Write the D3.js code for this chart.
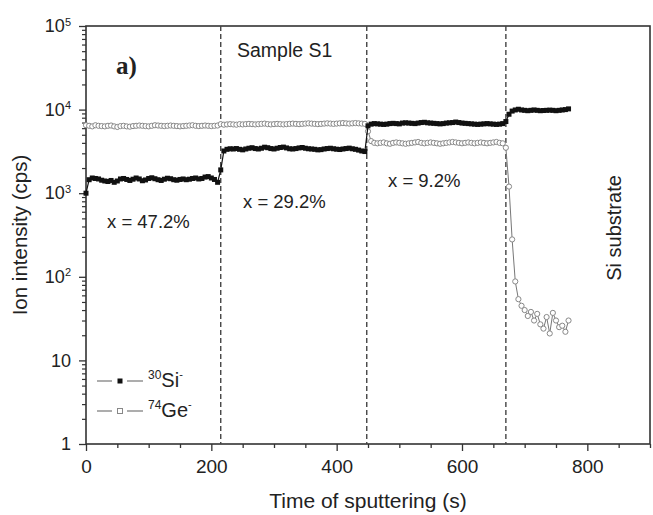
<!DOCTYPE html>
<html>
<head>
<meta charset="utf-8">
<script src="https://cdn.jsdelivr.net/npm/d3@7"></script>
<style>
  body { margin: 0; background: #fff; }
  svg { font-family: "Liberation Sans", Arial, sans-serif; }
</style>
</head>
<body>
<div id="container"></div>
<script>
// sputtering time step (s) between consecutive points
const timeStep = 5;

// 30Si- intensity (cps), one value per step from t = 0 to 770 s
const siValues = [
  1000,
  1450,1520,1500,1480,1430,1400,1380,1420,1350,1400,1480,1500,1460,1420,1470,1520,1480,1410,1440,1500,
  1530,1490,1450,1420,1470,1510,1490,1450,1430,1460,1480,1450,1470,1500,1520,1480,1500,1560,1580,1520,1460,1350,
  1900,
  3200,3350,3400,3380,3420,3350,3300,3380,3450,3500,3420,3380,3450,3550,3500,3420,3380,3450,3520,3560,
  3480,3400,3380,3420,3480,3520,3450,3400,3380,3350,3300,3320,3380,3420,3450,3400,3360,3330,3380,3420,
  3460,3400,3350,3280,3200,3150,
  6400,
  6700,6800,6750,6700,6650,6700,6800,6850,6800,6750,6900,6950,6900,6850,6800,6900,7000,7050,6950,6900,
  6850,6800,6750,6800,6900,6950,7000,7100,7000,6900,6850,6800,6750,6700,6650,6700,6750,6800,6750,6700,
  6650,6700,6800,
  7200,8800,
  9600,9900,10100,9900,9800,9700,9800,9900,9800,9700,9750,9800,9850,9800,9700,9800,9900,10000,10200
];

// 74Ge- intensity (cps), same time steps
const geValues = [
  6500,
  6400,6300,6500,6400,6350,6300,6400,6450,6300,6200,6350,6400,6300,6250,6350,6400,6450,6400,6350,6300,
  6400,6500,6450,6400,6350,6400,6450,6400,6350,6300,6350,6400,6450,6500,6400,6350,6400,6450,6400,6350,6400,6450,
  6700,
  6600,6650,6700,6650,6600,6700,6650,6700,6750,6700,6650,6700,6750,6800,6700,6650,6700,6750,6700,6650,
  6700,6750,6800,6750,6700,6750,6800,6850,6800,6750,6700,6750,6800,6850,6800,6750,6800,6850,6900,6850,
  6800,6850,6900,6850,6800,6750,
  5500,
  4200,4000,3950,4000,4050,3950,3900,4000,4050,4000,3950,3900,3950,4000,4050,4100,4000,3950,4000,4050,
  4000,3950,3900,3950,4000,4050,4100,4050,4000,3950,4000,4050,4000,3950,4000,4050,4000,3950,4000,4050,
  4100,4000,3950,
  3500,1200,
  280,88,54,45,40,34,38,30,36,27,24,33,21,37,30,25,26,22,30
];

// layer boundaries (s) and tick values
const boundaries = [215, 448, 670];
const xTicks = [0, 200, 400, 600, 800];
const yTicks = [1, 10, 100, 1000, 10000, 100000];

const W = 653, H = 515;
const plotL = 86, plotR = 650, plotT = 26, plotB = 444;

const svg = d3.select('#container').append('svg')
  .attr('width', W).attr('height', H);

const x = d3.scaleLinear().domain([0, 900]).range([plotL, plotR]);
const y = d3.scaleLog().domain([1, 1e5]).range([plotB, plotT]);

const axisColor = '#333';
const font = '"Liberation Sans", Arial, sans-serif';

// minor x ticks
const xMinor = d3.range(0, 901, 50).filter(v => v % 200 !== 0);
svg.append('g')
  .attr('transform', `translate(0,${plotB})`)
  .call(d3.axisBottom(x).tickValues(xMinor).tickSize(4).tickFormat(''))
  .call(g => g.select('.domain').remove())
  .call(g => g.selectAll('line').attr('stroke', axisColor).attr('stroke-width', 1.3));

// major x ticks
svg.append('g')
  .attr('transform', `translate(0,${plotB})`)
  .call(d3.axisBottom(x).tickValues(xTicks).tickSize(7).tickPadding(9))
  .call(g => g.select('.domain').remove())
  .call(g => g.selectAll('line').attr('stroke', axisColor).attr('stroke-width', 1.3))
  .call(g => g.selectAll('text').attr('font-size', 19).attr('fill', '#222').attr('font-family', font));

// minor y ticks
const yMinor = [];
yTicks.slice(0, -1).forEach(d => { for (let k = 2; k <= 9; k++) yMinor.push(d * k); });
svg.append('g')
  .attr('transform', `translate(${plotL},0)`)
  .call(d3.axisLeft(y).tickValues(yMinor).tickSize(4).tickFormat(''))
  .call(g => g.select('.domain').remove())
  .call(g => g.selectAll('line').attr('stroke', axisColor).attr('stroke-width', 1.2));

// major y ticks with 10^n labels
svg.append('g')
  .attr('transform', `translate(${plotL},0)`)
  .call(d3.axisLeft(y).tickValues(yTicks).tickSize(7).tickPadding(8))
  .call(g => g.select('.domain').remove())
  .call(g => g.selectAll('line').attr('stroke', axisColor).attr('stroke-width', 1.3))
  .call(g => g.selectAll('text')
    .attr('font-size', 18).attr('fill', '#222').attr('font-family', font)
    .each(function (d) {
      const t = d3.select(this);
      const e = Math.round(Math.log10(d));
      if (e <= 1) { t.text(d); return; }
      t.text(null);
      t.append('tspan').text('10');
      t.append('tspan').attr('dy', '-0.6em').attr('font-size', 11).text(e);
    }));

// frame
svg.append('rect')
  .attr('x', plotL).attr('y', plotT)
  .attr('width', plotR - plotL).attr('height', plotB - plotT)
  .attr('fill', 'none').attr('stroke', axisColor).attr('stroke-width', 1.6);

// dashed layer boundaries
svg.selectAll('.bound')
  .data(boundaries)
  .enter().append('line')
  .attr('class', 'bound')
  .attr('x1', d => x(d)).attr('x2', d => x(d))
  .attr('y1', y(1e5)).attr('y2', y(1))
  .attr('stroke', '#444').attr('stroke-width', 1.4)
  .attr('stroke-dasharray', '5,3');

const siData = siValues.map((v, i) => ({ t: i * timeStep, v }));
const geData = geValues.map((v, i) => ({ t: i * timeStep, v }));
const line = d3.line().x(d => x(d.t)).y(d => y(d.v));

// Ge series: gray line + open circles
svg.append('path')
  .datum(geData)
  .attr('d', line)
  .attr('fill', 'none').attr('stroke', '#777').attr('stroke-width', 1);
svg.append('g').selectAll('circle')
  .data(geData)
  .enter().append('circle')
  .attr('cx', d => x(d.t)).attr('cy', d => y(d.v))
  .attr('r', 2.6)
  .attr('fill', '#fff').attr('stroke', '#888').attr('stroke-width', 1);

// Si series: black line + filled squares
svg.append('path')
  .datum(siData)
  .attr('d', line)
  .attr('fill', 'none').attr('stroke', '#111').attr('stroke-width', 1.2);
svg.append('g').selectAll('rect')
  .data(siData)
  .enter().append('rect')
  .attr('x', d => x(d.t) - 2.5).attr('y', d => y(d.v) - 2.5)
  .attr('width', 5).attr('height', 5)
  .attr('fill', '#111');

// legend
const legend = [
  { mass: '30', el: 'Si', filled: true, y: 381 },
  { mass: '74', el: 'Ge', filled: false, y: 411 }
];
const lg = svg.append('g');
legend.forEach(l => {
  lg.append('line').attr('x1', 97).attr('x2', 112).attr('y1', l.y).attr('y2', l.y)
    .attr('stroke', '#777').attr('stroke-width', 1.2);
  lg.append('line').attr('x1', 127).attr('x2', 143).attr('y1', l.y).attr('y2', l.y)
    .attr('stroke', '#777').attr('stroke-width', 1.2);
  if (l.filled) {
    lg.append('rect').attr('x', 117.5).attr('y', l.y - 2.5).attr('width', 5).attr('height', 5).attr('fill', '#111');
  } else {
    lg.append('rect').attr('x', 117.5).attr('y', l.y - 2.5).attr('width', 5).attr('height', 5)
      .attr('fill', '#fff').attr('stroke', '#888').attr('stroke-width', 1);
  }
  const t = lg.append('text').attr('x', 148).attr('y', l.y + 6).attr('font-size', 20).attr('fill', '#222');
  t.append('tspan').attr('font-size', 12).attr('dy', -8).text(l.mass);
  t.append('tspan').attr('dy', 8).text(l.el);
  t.append('tspan').attr('font-size', 11).attr('dy', -9).text('-');
});

// annotations
svg.append('text').attr('x', 116).attr('y', 74)
  .attr('font-family', '"Liberation Serif", "Times New Roman", serif')
  .attr('font-weight', 'bold').attr('font-size', 25).attr('fill', '#222').text('a)');
svg.append('text').attr('x', 237).attr('y', 57).attr('font-size', 19.5).attr('fill', '#222').text('Sample S1');
svg.append('text').attr('x', 107).attr('y', 228).attr('font-size', 18.5).attr('fill', '#222').text('x = 47.2%');
svg.append('text').attr('x', 243).attr('y', 208).attr('font-size', 18.5).attr('fill', '#222').text('x = 29.2%');
svg.append('text').attr('x', 388).attr('y', 187).attr('font-size', 18.5).attr('fill', '#222').text('x = 9.2%');
svg.append('text')
  .attr('transform', 'translate(621,228) rotate(-90)')
  .attr('text-anchor', 'middle').attr('font-size', 20).attr('fill', '#222').text('Si substrate');

// axis titles
svg.append('text')
  .attr('transform', 'translate(27,235) rotate(-90)')
  .attr('text-anchor', 'middle').attr('font-size', 20.5).attr('fill', '#222').text('Ion intensity (cps)');
svg.append('text')
  .attr('x', 368).attr('y', 508)
  .attr('text-anchor', 'middle').attr('font-size', 21).attr('fill', '#222').text('Time of sputtering (s)');
</script>
</body>
</html>
